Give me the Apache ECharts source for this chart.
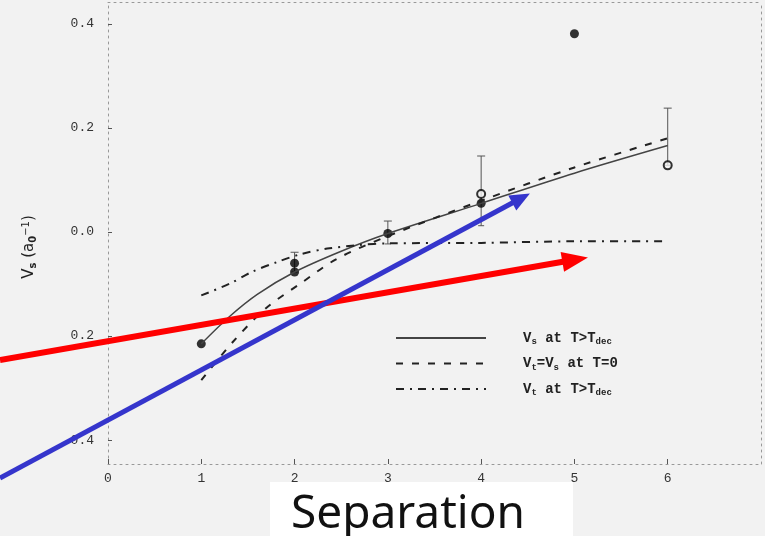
<!DOCTYPE html>
<html>
<head>
<meta charset="utf-8">
<script src="https://cdn.jsdelivr.net/npm/echarts@6/dist/echarts.min.js"></script>
<style>
  html, body { margin: 0; padding: 0; background: #f2f2f2; }
  #chart { width: 765px; height: 536px; }
</style>
</head>
<body>
<div id="chart"></div>
<script>
// ---------- data ----------
const xTicks = [0, 1, 2, 3, 4, 5, 6];
const yTicks = [-0.4, -0.2, 0, 0.2, 0.4];
const yTickLabels = ['0.4', '0.2', '0.0', '0.2', '0.4']; // as printed (minus signs lost in scan)

// V_s at T>T_dec (solid)
const solidX = [1, 1.3, 1.6, 2, 2.5, 3, 4, 5, 6];
const solidY = [-0.215, -0.163, -0.12, -0.077, -0.037, -0.003, 0.055, 0.113, 0.166];
// V_t=V_s at T=0 (dashed)
const dashX = [1, 1.34, 1.69, 2.08, 2.45, 3, 4, 5, 6];
const dashY = [-0.285, -0.211, -0.147, -0.097, -0.052, -0.008, 0.06, 0.124, 0.18];
// V_t at T>T_dec (dash-dot)
const dotX = [1, 1.31, 1.54, 1.81, 2.06, 2.35, 2.7, 3, 4, 5, 6];
const dotY = [-0.122, -0.099, -0.077, -0.058, -0.043, -0.032, -0.025, -0.022, -0.021, -0.018, -0.018];

// measured points
const filledX = [1, 2, 2, 3, 4, 5];
const filledY = [-0.215, -0.06, -0.077, -0.003, 0.055, 0.381];
const openX = [4, 6];
const openY = [0.073, 0.128];

// error bars
const errX = [2, 3, 4, 6];
const errLow = [-0.077, -0.023, 0.012, 0.128];
const errHigh = [-0.039, 0.021, 0.146, 0.238];

const legendNames = ['V{s|s} at T>T{s|dec}', 'V{s|t}=V{s|s} at T=0', 'V{s|t} at T>T{s|dec}'];

// annotation arrows (data coordinates of start and tip)
const redArrow = [[-1.158, -0.246], [5.145, -0.049]];
const blueArrow = [[-1.158, -0.473], [4.523, 0.074]];
const captionText = 'Separation';

// ---------- chart ----------
const zip = (a, b) => a.map((v, i) => [v, b[i]]);
const chart = echarts.init(document.getElementById('chart'), null, { renderer: 'canvas' });
const tickFont = { fontFamily: 'Liberation Mono', fontSize: 13, color: '#333' };
const axisLineStyle = { color: '#999', width: 1, type: [2, 4] };

const option = {
  backgroundColor: '#f2f2f2',
  animation: false,
  grid: { left: 108, right: 4, top: 2, bottom: 72 },
  xAxis: [{
    type: 'value', min: 0, max: 7, interval: 1,
    axisLine: { show: true, onZero: false, lineStyle: axisLineStyle },
    axisTick: { show: true, inside: true, length: 5, lineStyle: { color: '#555' }, customValues: xTicks },
    axisLabel: { ...tickFont, margin: 8, customValues: xTicks },
    splitLine: { show: false }
  }, {
    type: 'value', min: 0, max: 7, position: 'top',
    axisLine: { show: true, onZero: false, lineStyle: axisLineStyle },
    axisTick: { show: false }, axisLabel: { show: false }, splitLine: { show: false }
  }],
  yAxis: [{
    type: 'value', min: -0.446, max: 0.442,
    axisLine: { show: true, onZero: false, lineStyle: axisLineStyle },
    axisTick: { show: true, inside: true, length: 4, lineStyle: { color: '#555' }, customValues: yTicks },
    axisLabel: {
      ...tickFont, margin: 14, customValues: yTicks,
      formatter: v => yTickLabels[yTicks.findIndex(t => Math.abs(t - v) < 1e-9)]
    },
    splitLine: { show: false },
    name: 'V{s|s} (a{s|0}{p|−1})',
    nameLocation: 'middle', nameGap: 70, nameRotate: 90,
    nameTextStyle: {
      fontFamily: 'DejaVu Sans', fontSize: 15, color: '#222', padding: [0, 28, 0, 0],
      rich: { s: { fontSize: 10, verticalAlign: 'bottom', fontWeight: 'bold', padding: [7, 0, 0, 0] },
              p: { fontSize: 10, padding: [0, 0, 7, 0] } }
    }
  }, {
    type: 'value', min: -0.446, max: 0.442, position: 'right',
    axisLine: { show: true, onZero: false, lineStyle: axisLineStyle },
    axisTick: { show: false }, axisLabel: { show: false }, splitLine: { show: false }
  }],
  legend: {
    orient: 'vertical', left: 390, top: 326,
    itemWidth: 90, itemHeight: 14, itemGap: 10,
    data: legendNames,
    itemStyle: { color: 'transparent', borderColor: 'transparent', borderWidth: 0 },
    textStyle: {
      fontFamily: 'Liberation Mono', fontSize: 14, fontWeight: 'bold', color: '#222',
      padding: [0, 0, 0, 32],
      rich: { s: { fontFamily: 'Liberation Mono', fontSize: 9, fontWeight: 'bold', verticalAlign: 'bottom', padding: [8, 0, 0, 0] } }
    }
  },
  series: [
    { name: legendNames[0], type: 'line', smooth: 0.3, symbol: 'none',
      data: zip(solidX, solidY), lineStyle: { color: '#444', width: 1.5 }, itemStyle: { color: '#444' } },
    { name: legendNames[1], type: 'line', smooth: 0.3, symbol: 'none',
      data: zip(dashX, dashY), lineStyle: { color: '#222', width: 2, type: [7, 9] }, itemStyle: { color: '#222' } },
    { name: legendNames[2], type: 'line', smooth: 0.3, symbol: 'none',
      data: zip(dotX, dotY), lineStyle: { color: '#222', width: 2, type: [8, 6, 2, 6] }, itemStyle: { color: '#222' } },
    { type: 'custom', data: errX.map((x, i) => [x, errLow[i], errHigh[i]]),
      renderItem: (params, api) => {
        const lo = api.coord([api.value(0), api.value(1)]);
        const hi = api.coord([api.value(0), api.value(2)]);
        const st = { stroke: '#555', lineWidth: 1 };
        return { type: 'group', children: [
          { type: 'line', shape: { x1: lo[0], y1: lo[1], x2: hi[0], y2: hi[1] }, style: st },
          { type: 'line', shape: { x1: hi[0] - 4, y1: hi[1], x2: hi[0] + 4, y2: hi[1] }, style: st },
          { type: 'line', shape: { x1: lo[0] - 3, y1: lo[1], x2: lo[0] + 3, y2: lo[1] }, style: st }
        ] };
      } },
    { type: 'scatter', data: zip(filledX, filledY), symbol: 'circle', symbolSize: 9,
      itemStyle: { color: '#000' } },
    { type: 'scatter', data: zip(openX, openY), symbol: 'circle', symbolSize: 8,
      itemStyle: { color: '#f2f2f2', borderColor: '#000', borderWidth: 2 } }
  ]
};
chart.setOption(option);

function arrow(pts, color, width, headLen, headW) {
  const a = chart.convertToPixel({ gridIndex: 0 }, pts[0]);
  const b = chart.convertToPixel({ gridIndex: 0 }, pts[1]);
  const dx = b[0] - a[0], dy = b[1] - a[1];
  const L = Math.hypot(dx, dy), ux = dx / L, uy = dy / L;
  const bx = b[0] - ux * headLen, by = b[1] - uy * headLen;
  const nx = -uy, ny = ux;
  return [
    { type: 'line', z: 100, shape: { x1: a[0], y1: a[1], x2: bx + ux * 2, y2: by + uy * 2 },
      style: { stroke: color, lineWidth: width } },
    { type: 'polygon', z: 100, shape: { points: [[b[0], b[1]], [bx + nx * headW / 2, by + ny * headW / 2], [bx - nx * headW / 2, by - ny * headW / 2]] },
      style: { fill: color } }
  ];
}

chart.setOption({
  graphic: [
    ...arrow(redArrow, '#ff0000', 6, 26, 20),
    ...arrow(blueArrow, '#3535cc', 5, 20, 17),
    { type: 'rect', z: 110, shape: { x: 270, y: 482, width: 303, height: 60 }, style: { fill: '#ffffff' } },
    { type: 'text', z: 111, x: 291, y: 515,
      style: { text: captionText, fontFamily: 'Noto Sans', fontSize: 46, fill: '#111', verticalAlign: 'middle' } }
  ]
});
</script>
</body>
</html>
